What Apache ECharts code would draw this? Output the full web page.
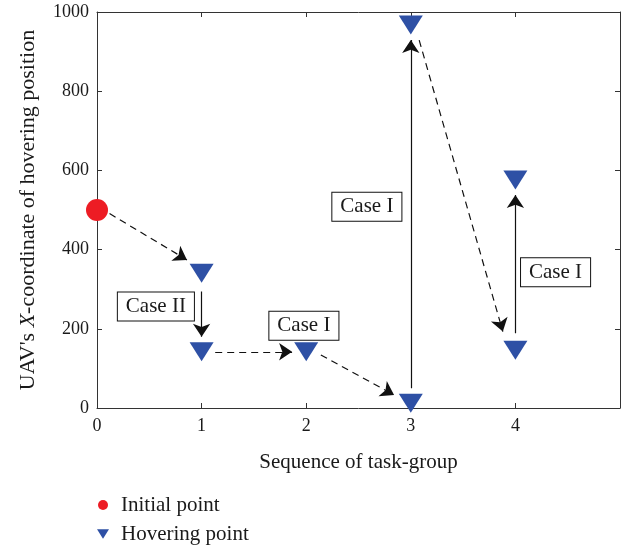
<!DOCTYPE html>
<html>
<head>
<meta charset="utf-8">
<script src="https://cdn.jsdelivr.net/npm/echarts@6/dist/echarts.min.js"></script>
<style>
  html, body { margin: 0; padding: 0; background: #fff; }
  #chart { width: 632px; height: 550px; }
</style>
</head>
<body>
<div id="chart"></div>
<script>
// data
const initialPoint = [[0, 500]];
const hoveringPoints = [[1, 340], [1, 142], [2, 142], [3, 12], [3, 967], [4, 146], [4, 576]];
// arrows: [x1, y1, x2, y2]
const dashedArrows = [[0.12, 491, 0.86, 374], [1.13, 142, 1.865, 142], [2.14, 134, 2.84, 33], [3.08, 929, 3.88, 193]];
const solidArrows = [[1, 294, 1, 180], [3, 50, 3, 929], [4, 189, 4, 538]];
// case labels: [x, y, text]
const caseLabels = [[0.563, 256, 'Case II'], [1.978, 208, 'Case I'], [2.58, 508, 'Case I'], [4.384, 343, 'Case I']];

const serif = 'Liberation Serif';
const textColor = '#1a1a1a';
const axisColor = '#333';
const red = '#ed1c24';
const blue = '#2e50a5';
const triPath = 'path://M0,0L24,0L12,19Z';

function arrowData (list, type) {
  return list.map(a => ({
    coords: [[a[0], a[1]], [a[2], a[3]]],
    lineStyle: { type: type }
  }));
}

// box axes (bottom/left with labels, top/right mirrored ticks only)
function boxAxis (extra) {
  return Object.assign({
    type: 'value',
    axisLine: { show: true, onZero: false, lineStyle: { color: axisColor } },
    axisTick: { show: true, inside: true, length: 5, lineStyle: { color: axisColor } },
    splitLine: { show: false }
  }, extra);
}

const chart = echarts.init(document.getElementById('chart'));
const option = {
  animation: false,
  grid: { left: 97, right: 12, top: 12, bottom: 142 },
  legend: {
    orient: 'vertical',
    left: 97,
    top: 494,
    padding: 0,
    itemGap: 7,
    itemWidth: 12,
    itemHeight: 10,
    textStyle: { fontFamily: serif, fontSize: 21, color: textColor, lineHeight: 22, padding: [0, 0, 0, 7] },
    data: [
      { name: 'Initial point', icon: 'circle', itemStyle: { color: red } },
      { name: 'Hovering point', icon: triPath, itemStyle: { color: blue } }
    ]
  },
  xAxis: [
    boxAxis({
      min: 0,
      max: 5,
      interval: 1,
      position: 'bottom',
      name: 'Sequence of task-group',
      nameLocation: 'middle',
      nameGap: 44,
      nameTextStyle: { fontFamily: serif, fontSize: 21, color: textColor },
      axisLabel: {
        fontFamily: serif, fontSize: 18, color: textColor, margin: 9,
        formatter: v => (v === 5 ? '' : String(v))
      }
    }),
    boxAxis({
      min: 0,
      max: 5,
      interval: 1,
      position: 'top',
      axisLabel: { show: false }
    })
  ],
  yAxis: [
    boxAxis({
      min: 0,
      max: 1000,
      interval: 200,
      position: 'left',
      name: "UAV's {i|X}-coordinate of hovering position",
      nameLocation: 'middle',
      nameGap: 58,
      nameRotate: 90,
      nameTextStyle: {
        fontFamily: serif, fontSize: 22, color: textColor,
        rich: { i: { fontFamily: serif, fontSize: 22, fontStyle: 'italic', color: textColor } }
      },
      axisLabel: { fontFamily: serif, fontSize: 18, color: textColor, margin: 8, formatter: v => String(v) }
    }),
    boxAxis({
      min: 0,
      max: 1000,
      interval: 200,
      position: 'right',
      axisLabel: { show: false }
    })
  ],
  series: [
    {
      type: 'lines',
      coordinateSystem: 'cartesian2d',
      symbol: ['none', 'arrow'],
      symbolSize: 13,
      lineStyle: { color: '#111', width: 1.2, opacity: 1 },
      z: 2,
      data: arrowData(dashedArrows, [7, 5]).concat(arrowData(solidArrows, 'solid'))
    },
    {
      type: 'scatter',
      symbolSize: 0,
      silent: true,
      z: 3,
      itemStyle: { opacity: 1 },
      label: {
        show: true,
        position: 'inside',
        formatter: p => p.data[2],
        fontFamily: serif,
        fontSize: 21,
        lineHeight: 21,
        color: textColor,
        opacity: 1,
        backgroundColor: '#fff',
        borderColor: '#111',
        borderWidth: 1,
        padding: [4, 8, 3, 8]
      },
      data: caseLabels
    },
    {
      name: 'Initial point',
      type: 'scatter',
      symbol: 'circle',
      symbolSize: 22,
      itemStyle: { color: red, opacity: 1 },
      z: 4,
      data: initialPoint
    },
    {
      name: 'Hovering point',
      type: 'scatter',
      symbol: triPath,
      symbolSize: [24, 19],
      itemStyle: { color: blue, opacity: 1 },
      z: 4,
      data: hoveringPoints
    }
  ]
};
chart.setOption(option);
window.addEventListener('resize', function () {
  chart.resize();
});
</script>
</body>
</html>
